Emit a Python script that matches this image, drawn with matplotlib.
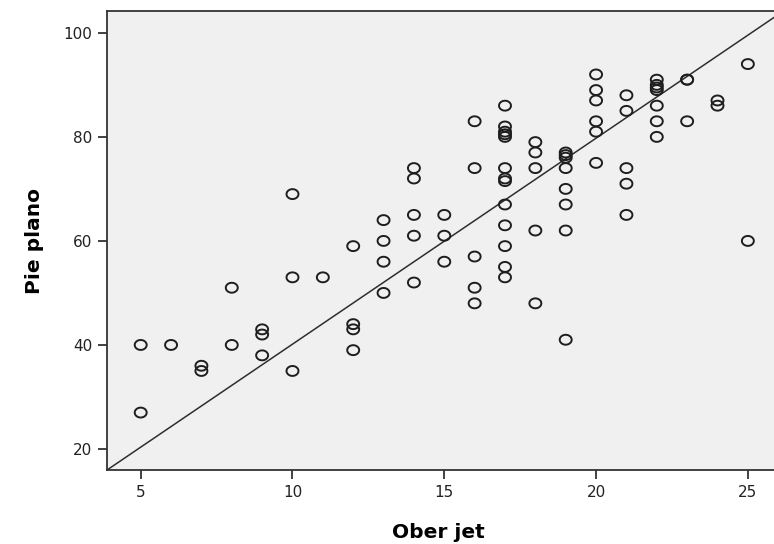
import numpy as np
import matplotlib.pyplot as plt
from matplotlib.path import Path

plt.rcParams['font.family'] = ['DejaVu Sans']

# values, one entry per student
ober_jet = [5, 5, 6, 7, 7, 8, 8, 9, 9, 9, 10, 10, 10, 11,
            12, 12, 12, 12, 13, 13, 13, 13, 14, 14, 14, 14, 14,
            15, 15, 15, 16, 16, 16, 16, 16,
            17, 17, 17, 17, 17, 17, 17, 17, 17, 17, 17, 17, 17,
            18, 18, 18, 18, 18, 19, 19, 19, 19, 19, 19, 19, 19,
            20, 20, 20, 20, 20, 20, 21, 21, 21, 21, 21,
            22, 22, 22, 22, 22, 22, 22, 23, 23, 23, 24, 24, 25, 25]
pie_plano = [40, 27, 40, 36, 35, 51, 40, 43, 42, 38, 69, 53, 35, 53,
             59, 44, 43, 39, 64, 60, 56, 50, 74, 72, 65, 61, 52,
             65, 61, 56, 83, 74, 57, 51, 48,
             86, 82, 81, 80.5, 80, 74, 72, 71.5, 67, 63, 59, 55, 53,
             79, 77, 74, 62, 48, 77, 76.5, 76, 74, 70, 67, 62, 41,
             92, 89, 87, 83, 81, 75, 88, 85, 74, 71, 65,
             91, 90, 89.5, 89, 86, 83, 80, 91, 91, 83, 87, 86, 94, 60]

# fit line as drawn in the reference
slope = 3.96
intercept = 0.55

x_ticks = [5, 10, 15, 20, 25]
y_ticks = [20, 40, 60, 80, 100]

fig = plt.figure(figsize=(7.74, 5.44), dpi=100)
# right edge of the frame runs just past the picture, as in the original
ax = fig.add_axes([107 / 774, 1 - 470 / 544, 670 / 774, 459 / 544])
ax.set_facecolor('#f0f0f0')

# slightly flattened ring, like the original markers
t = np.linspace(0, 2 * np.pi, 60)
ring = Path(np.column_stack([np.cos(t), 0.83 * np.sin(t)]), closed=True)

xlim = (3.89, 25.96)
ylim = (15.96, 104.2)
xs = np.array(xlim)
ax.plot(xs, intercept + slope * xs, color='#2e2e2e', lw=1.1, zorder=2)
ax.scatter(ober_jet, pie_plano, marker=ring, s=8.6 ** 2, facecolors='none',
           edgecolors='#1e1e1e', linewidths=1.4, zorder=3)

ax.set_xlim(xlim)
ax.set_ylim(ylim)
ax.set_xticks(x_ticks)
ax.set_yticks(y_ticks)
ax.tick_params(direction='out', length=6.5, width=1.3, color='#333333',
               labelsize=11, labelcolor='#222222', pad=4)
for s in ax.spines.values():
    s.set_color('#333333')
    s.set_linewidth(1.3)

ax.set_xlabel('Ober jet', fontsize=14.5, fontweight='bold')
ax.set_ylabel('Pie plano', fontsize=14.5, fontweight='bold')
ax.xaxis.set_label_coords(0.495, -0.1155)
ax.yaxis.set_label_coords(-0.094, 0.5)

fig.savefig('out.png', dpi=100)
